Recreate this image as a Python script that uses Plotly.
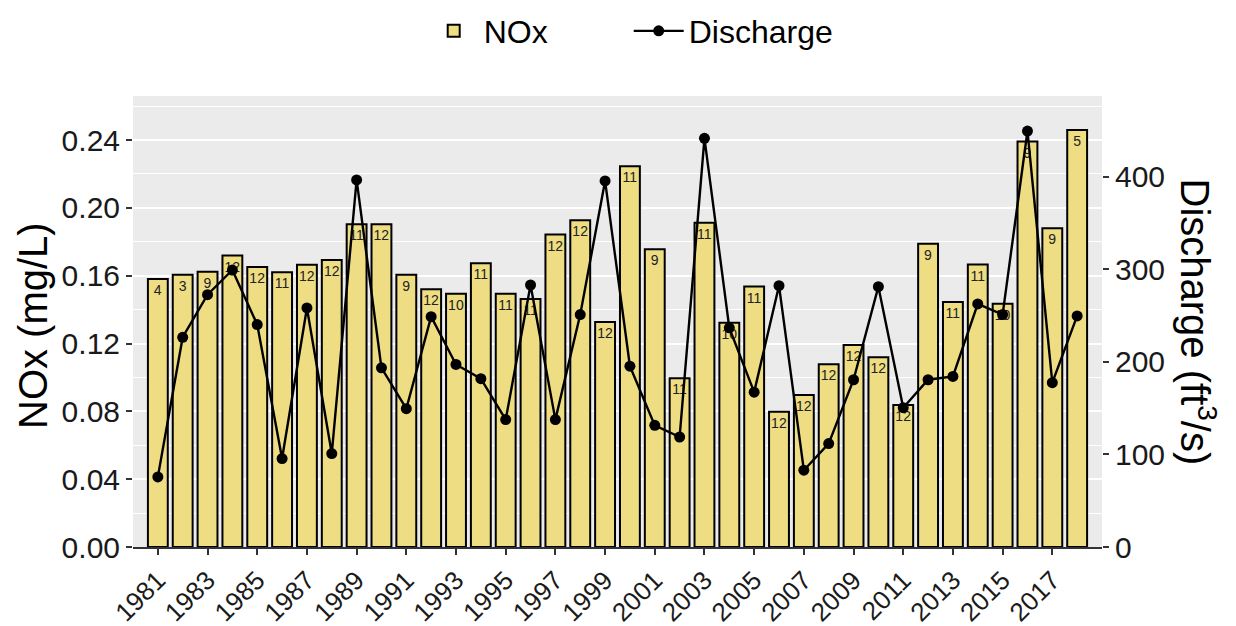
import plotly.graph_objects as go

years = list(range(1981, 2019))
nox = [0.158, 0.1605, 0.1624, 0.1719, 0.1652, 0.162, 0.1664, 0.1693, 0.1904, 0.1904,
       0.1605, 0.152, 0.1493, 0.1674, 0.1493, 0.1463, 0.1843, 0.1927, 0.1327, 0.2246,
       0.1756, 0.0995, 0.1913, 0.1323, 0.1536, 0.0797, 0.0897, 0.1078, 0.1192, 0.1119,
       0.0838, 0.1789, 0.1445, 0.1666, 0.1435, 0.2391, 0.188, 0.246]
discharge = [75.8, 226.7, 272.8, 299.4, 240.4, 95.6, 258.4, 101, 396.8, 193.7,
             149.5, 249, 197.3, 181.9, 137.7, 283.2, 137.7, 251.2, 395.7, 195.5,
             131.5, 118.9, 441.7, 236.9, 167.4, 282.5, 83, 111.8, 180.8, 281.4,
             150.6, 180.8, 184.4, 262.7, 251.2, 449.6, 177.6, 249.8]
n_samples = [4, 3, 9, 12, 12, 11, 12, 12, 11, 12,
             9, 12, 10, 11, 11, 11, 12, 12, 12, 11,
             9, 11, 11, 10, 11, 12, 12, 12, 12, 12,
             12, 9, 11, 11, 10, 9, 9, 5]
tick_years = list(range(1981, 2018, 2))

FONT = "Liberation Sans, Arial, sans-serif"

fig = go.Figure()
fig.add_trace(go.Bar(
    x=years, y=nox, name="NOx", width=0.8,
    marker=dict(color="#EEDD82", line=dict(color="black", width=2)),
    text=[str(v) for v in n_samples], textposition="inside",
    insidetextanchor="end", constraintext="none",
    textfont=dict(size=14, color="#222222", family=FONT),
))
fig.add_trace(go.Scatter(
    x=years, y=discharge, name="Discharge", yaxis="y2",
    mode="lines+markers",
    line=dict(color="black", width=2.4),
    marker=dict(color="black", size=11),
))

fig.update_layout(
    width=1228, height=618,
    margin=dict(l=125, r=134, t=88, b=79, autoexpand=False),
    paper_bgcolor="white", plot_bgcolor="#EBEBEB",
    font=dict(family=FONT, color="black"),
    uniformtext=dict(minsize=14, mode="show"),
    showlegend=True,
    legend=dict(orientation="h", x=0.3, xanchor="left", y=1.144, yanchor="middle",
                font=dict(size=32, family=FONT), itemwidth=50,
                entrywidth=140, entrywidthmode="pixels",
                bgcolor="rgba(0,0,0,0)"),
    xaxis=dict(range=[1980.0, 2019.0], tickmode="array", tickvals=tick_years,
               ticktext=[str(y) for y in tick_years], tickangle=-45,
               tickfont=dict(size=26, color="#1a1a1a"),
               ticks="outside", ticklen=6, tickwidth=1.5, tickcolor="#333333",
               showgrid=False, zeroline=False,
               showline=True, linecolor="#333333", linewidth=1.5),
    yaxis=dict(range=[0, 0.266], tickmode="array",
               tickvals=[0, 0.04, 0.08, 0.12, 0.16, 0.20, 0.24],
               ticktext=["0.00", "0.04", "0.08", "0.12", "0.16", "0.20", "0.24"],
               tickfont=dict(size=30, color="#1a1a1a"),
               ticks="outside", ticklen=6, tickwidth=1.5, tickcolor="#333333",
               showgrid=True, gridcolor="white", gridwidth=1.6,
               minor=dict(tickvals=[0.02, 0.06, 0.10, 0.14, 0.18, 0.22, 0.26],
                          showgrid=True, gridcolor="white", gridwidth=1),
               zeroline=False, showline=False),
    yaxis2=dict(range=[0, 487.5], overlaying="y", side="right",
                tickvals=[0, 100, 200, 300, 400],
                tickfont=dict(size=30, color="#1a1a1a"),
                ticks="outside", ticklen=6, tickwidth=1.5, tickcolor="#333333",
                showgrid=False, zeroline=False, showline=False),
    annotations=[
        dict(text="NOx (mg/L)", textangle=-90, x=0, xref="paper", xshift=-100,
             xanchor="center", y=0.49, yref="paper", yanchor="middle",
             showarrow=False, font=dict(size=40, family=FONT)),
        dict(text="Discharge (ft<sup>3</sup>/s)", textangle=90, x=1.0, xref="paper",
             xshift=96, xanchor="center", y=0.5, yref="paper", yanchor="middle",
             showarrow=False, font=dict(size=40, family=FONT)),
    ],
)

fig.write_html("out.html")
